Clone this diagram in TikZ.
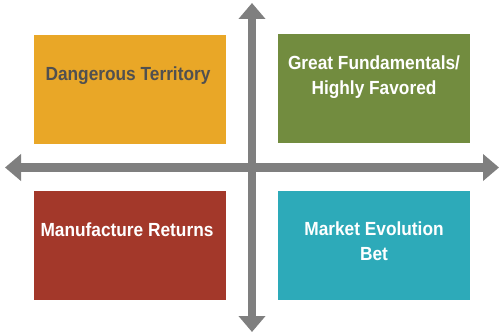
\documentclass[tikz,border=0pt]{standalone}
\usepackage{fontspec}
\setmainfont[FakeStretch=0.91]{Liberation Sans}
\usetikzlibrary{arrows.meta}
\definecolor{qorange}{HTML}{E9A727}
\definecolor{qgreen}{HTML}{728C3F}
\definecolor{qred}{HTML}{A3382A}
\definecolor{qteal}{HTML}{2DAAB9}
\definecolor{axisgray}{HTML}{7F7F7F}
\definecolor{darktext}{HTML}{505050}
\begin{document}
\begin{tikzpicture}[x=1pt,y=-1pt,
  quad/.style={draw=none,minimum width=192pt,minimum height=109pt,inner sep=0pt,anchor=north west},
  lbl/.style={font=\fontsize{19}{25}\selectfont\bfseries,align=center,inner sep=0pt,anchor=base},
  axisline/.style={axisgray,line width=8.5pt,{Triangle[width=26pt,length=16pt]}-{Triangle[width=26pt,length=16pt]}}]
\useasboundingbox (0,0) rectangle (503,334);
\node[quad,fill=qorange] (tl) at (34,35) {};
\node[quad,fill=qgreen] (tr) at (278,34) {};
\node[quad,fill=qred] (bl) at (34,191) {};
\node[quad,fill=qteal] (br) at (278,191) {};
\node[lbl,text=darktext] (tlt) at (128,81) {Dangerous Territory};
\node[lbl,text=white] (trt) at (374,95) {Great Fundamentals/\\Highly Favored};
\node[lbl,text=white] (blt) at (127,236) {Manufacture Returns};
\node[lbl,text=white] (brt) at (374,260) {Market Evolution\\Bet};
\coordinate (vtop) at (252,3);
\coordinate (vbot) at (252,332);
\coordinate (hl) at (5,167.5);
\coordinate (hr) at (499,167.5);
\draw[axisline] (vbot) -- (vtop);
\draw[axisline] (hl) -- (hr);
\end{tikzpicture}
\end{document}
